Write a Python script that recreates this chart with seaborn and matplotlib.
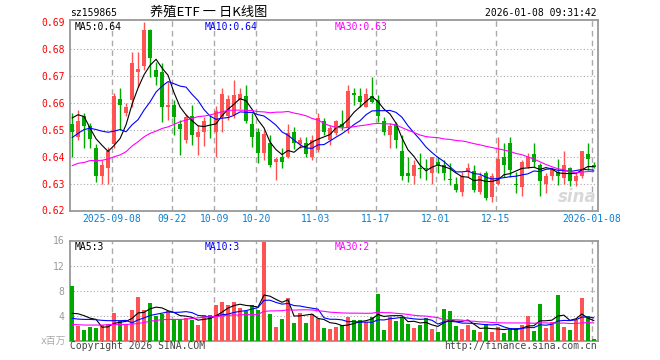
import numpy as np
import pandas as pd
import matplotlib
matplotlib.use("Agg")
import matplotlib.pyplot as plt
import seaborn as sns

# ---------------- data ----------------
open_ = [0.652, 0.6471, 0.655, 0.6513, 0.643, 0.6329, 0.6359, 0.6445, 0.6613, 0.6562,
         0.6609, 0.6712, 0.6736, 0.6869, 0.672, 0.6714, 0.6582, 0.6591, 0.652, 0.6461,
         0.655, 0.6473, 0.6492, 0.6533, 0.6492, 0.6548, 0.655, 0.6554, 0.6609, 0.6624,
         0.6519, 0.6491, 0.6412, 0.6449, 0.6381, 0.6397, 0.6399, 0.649, 0.6446, 0.6449,
         0.6397, 0.6424, 0.6532, 0.6461, 0.6488, 0.6519, 0.6508, 0.6634, 0.6624, 0.6585,
         0.6624, 0.6609, 0.6532, 0.648, 0.652, 0.642, 0.6338, 0.6329, 0.6359, 0.6359,
         0.634, 0.638, 0.6369, 0.6318, 0.6298, 0.627, 0.6344, 0.6348, 0.627, 0.6338,
         0.6251, 0.6298, 0.6399, 0.6449, 0.6298, 0.6288, 0.6362, 0.6409, 0.6367, 0.6298,
         0.6328, 0.6344, 0.6319, 0.6356, 0.6309, 0.6328, 0.6409, 0.6369]
high = [0.656, 0.6572, 0.656, 0.6523, 0.6446, 0.6387, 0.6436, 0.6634, 0.6653, 0.6597,
        0.6787, 0.6787, 0.6898, 0.6871, 0.6751, 0.6745, 0.6677, 0.6609, 0.6535, 0.6557,
        0.6591, 0.6517, 0.6548, 0.6554, 0.6587, 0.6653, 0.6628, 0.6683, 0.6653, 0.6665,
        0.656, 0.6504, 0.6498, 0.648, 0.6399, 0.643, 0.652, 0.6508, 0.6473, 0.6473,
        0.648, 0.656, 0.6541, 0.6517, 0.6535, 0.6572, 0.6665, 0.6653, 0.6653, 0.6653,
        0.6696, 0.6628, 0.6548, 0.6523, 0.6529, 0.648, 0.6399, 0.6387, 0.6412, 0.639,
        0.6399, 0.6399, 0.6387, 0.6375, 0.6325, 0.6344, 0.6375, 0.6369, 0.6344, 0.6348,
        0.6338, 0.6471, 0.6449, 0.6471, 0.6344, 0.6387, 0.6412, 0.6449, 0.6375, 0.6338,
        0.6356, 0.639, 0.642, 0.6362, 0.6344, 0.6422, 0.6449, 0.6381]
low = [0.640, 0.6461, 0.643, 0.643, 0.6304, 0.6297, 0.6297, 0.643, 0.6498, 0.655,
       0.6585, 0.6659, 0.672, 0.6696, 0.6665, 0.6529, 0.6535, 0.648, 0.6406, 0.6451,
       0.6443, 0.6406, 0.6439, 0.6467, 0.6399, 0.6492, 0.6535, 0.6541, 0.6578, 0.6523,
       0.6436, 0.6375, 0.6387, 0.6362, 0.6313, 0.6356, 0.6393, 0.6427, 0.643, 0.6397,
       0.6387, 0.6418, 0.648, 0.6443, 0.648, 0.6498, 0.6486, 0.6591, 0.6585, 0.6582,
       0.6597, 0.6529, 0.648, 0.643, 0.643, 0.6313, 0.6304, 0.6297, 0.6319, 0.6313,
       0.6297, 0.6338, 0.6313, 0.6294, 0.627, 0.6254, 0.6325, 0.627, 0.6261, 0.6239,
       0.6233, 0.6294, 0.6325, 0.6325, 0.6264, 0.6254, 0.6356, 0.6362, 0.6254, 0.6264,
       0.6313, 0.6294, 0.6298, 0.6292, 0.6292, 0.6319, 0.635, 0.6356]
close = [0.649, 0.6532, 0.6513, 0.6464, 0.6329, 0.6369, 0.642, 0.6624, 0.6592, 0.6585,
         0.6748, 0.6723, 0.6869, 0.6766, 0.6696, 0.6585, 0.659, 0.6545, 0.6503, 0.6548,
         0.648, 0.6492, 0.6533, 0.653, 0.657, 0.6631, 0.6612, 0.6628, 0.6631, 0.6532,
         0.6473, 0.6412, 0.6482, 0.6369, 0.6392, 0.6381, 0.6488, 0.6449, 0.6461, 0.6409,
         0.6461, 0.6541, 0.6492, 0.6504, 0.6532, 0.6511, 0.6644, 0.6629, 0.6603, 0.6631,
         0.6603, 0.655, 0.6492, 0.6513, 0.6461, 0.6329, 0.6329, 0.6369, 0.6354, 0.6354,
         0.6397, 0.6369, 0.634, 0.6314, 0.6276, 0.6329, 0.6359, 0.6276, 0.6329, 0.6245,
         0.6329, 0.639, 0.6369, 0.635, 0.6294, 0.6378, 0.6399, 0.6381, 0.6309, 0.6328,
         0.6352, 0.6329, 0.6367, 0.6309, 0.6328, 0.642, 0.6391, 0.6363]
volume = [8.75, 2.35, 1.7, 2.2, 2.0, 2.5, 2.67, 4.43, 3.15, 2.67,
          4.9, 7.0, 4.9, 6.0, 4.0, 4.27, 4.75, 3.5, 3.5, 3.6,
          3.3, 2.5, 4.16, 4.16, 5.76, 6.2, 5.76, 6.2, 5.2, 4.8,
          5.76, 4.9, 15.8, 4.27, 2.24, 3.47, 6.83, 2.88, 4.43, 2.88,
          4.2, 3.4, 2.0, 1.9, 2.24, 2.5, 3.84, 3.3, 3.3, 3.04,
          3.84, 7.47, 1.7, 3.84, 3.15, 3.84, 2.67, 2.03, 2.5, 3.57,
          1.87, 1.44, 5.07, 4.75, 2.35, 1.87, 2.5, 1.7, 1.39, 2.67,
          1.39, 2.2, 1.23, 2.0, 2.0, 2.5, 3.95, 1.55, 5.87, 2.03,
          2.99, 7.3, 2.2, 1.7, 3.3, 6.83, 3.95, 0.27]

# moving-average values at the left edge (history before the window)
ma5_head = [0.6543, 0.6555, 0.6548, 0.6505]
ma10_head = [0.6470, 0.6486, 0.6500, 0.6505, 0.6500, 0.6494, 0.6490, 0.6494, 0.6500]
ma30_head = [0.6366, 0.6375, 0.6378, 0.6385, 0.6385, 0.6386, 0.6391, 0.6399, 0.6406, 0.6418,
             0.6439, 0.6455, 0.6473, 0.6486, 0.6494, 0.6504, 0.6510, 0.6519, 0.6529, 0.6535,
             0.6541, 0.6548, 0.6550, 0.6554, 0.6560, 0.6566, 0.6571, 0.6572, 0.6572]
vma5_head = [4.37, 4.3, 4.0, 3.6]
vma10_head = [3.57, 3.45, 3.4, 3.4, 3.35, 3.25, 3.2, 3.2, 3.2]
vma30_head = [2.6, 2.55, 2.5, 2.5, 2.5, 2.5, 2.55, 2.6, 2.6, 2.6,
              2.65, 2.75, 2.9, 3.1, 3.25, 3.35, 3.4, 3.4, 3.4, 3.45,
              3.55, 3.65, 3.75, 3.8, 3.85, 3.95, 4.05, 4.1, 4.1]

tick_dates = ["2025-09-08", "2025-09-22", "2025-10-09", "2025-10-20", "2025-11-03",
              "2025-11-17", "2025-12-01", "2025-12-15", "2026-01-08"]
tick_labels = ["2025-09-08", "09-22", "10-09", "10-20", "11-03",
               "11-17", "12-01", "12-15", "2026-01-08"]
price_ticks = [0.62, 0.63, 0.64, 0.65, 0.66, 0.67, 0.68, 0.69]
vol_ticks = [4, 8, 12, 16]

# trading calendar
holidays = pd.to_datetime(["2025-10-01", "2025-10-02", "2025-10-03", "2025-10-06",
                           "2025-10-07", "2025-10-08", "2026-01-01", "2026-01-02"])
dates = pd.bdate_range("2025-08-28", "2026-01-08")
dates = dates[~dates.isin(holidays)]

df = pd.DataFrame({"date": dates, "open": open_, "high": high, "low": low,
                   "close": close, "vol": volume})
df["idx"] = np.arange(len(df))


def ma(series, n, head):
    m = series.rolling(n).mean().to_numpy()
    m[:len(head)] = head
    return m


df["ma5"] = ma(df["close"], 5, ma5_head)
df["ma10"] = ma(df["close"], 10, ma10_head)
df["ma30"] = ma(df["close"], 30, ma30_head)
df["vma5"] = ma(df["vol"], 5, vma5_head)
df["vma10"] = ma(df["vol"], 10, vma10_head)
df["vma30"] = ma(df["vol"], 30, vma30_head)

RED = "#ff5353"
GREEN = "#00a800"
up = df["close"] >= df["open"]
colors = np.where(up, RED, GREEN)

tick_idx = [int(df.index[df["date"] == pd.Timestamp(d)][0]) for d in tick_dates]
grid_x = [t - 0.33 for t in tick_idx]

# ---------------- style ----------------
sns.set_theme(style="white")
plt.rcParams['font.family'] = ['DejaVu Sans Mono', 'Noto Sans CJK SC']
plt.rcParams['font.size'] = 7

W, H = 660, 360
fig = plt.figure(figsize=(6.6, 3.6), dpi=100)
fig.patch.set_facecolor("white")
ax1 = fig.add_axes([70 / W, 1 - 210.5 / H, 527.5 / W, 190.5 / H])
ax2 = fig.add_axes([70 / W, 1 - 340.7 / H, 527.5 / W, 100.2 / H])

GRID = "#aaaaaa"
for ax in (ax1, ax2):
    ax.set_facecolor("white")
    for s in ax.spines.values():
        s.set_color("#999999")
        s.set_linewidth(1.3)
    for gx in grid_x:
        ax.axvline(gx, color=GRID, ls=(0, (4, 3)), lw=1.0, zorder=0)
    ax.set_xlim(-0.35, 87.6)

for yv in price_ticks[1:-1]:
    ax1.axhline(yv, color=GRID, ls=(0, (1, 2)), lw=0.8, zorder=0)
for yv in vol_ticks[:-1]:
    ax2.axhline(yv, color=GRID, ls=(0, (1, 2)), lw=0.8, zorder=0)

# candles
x = df["idx"].to_numpy()
ax1.vlines(x, df["low"], df["high"], colors=colors, lw=1.0, zorder=2)
body_lo = np.minimum(df["open"], df["close"])
body_h = np.maximum(np.abs(df["close"] - df["open"]), 0.00035)
ax1.bar(x, body_h, bottom=body_lo, width=0.8, color=colors, linewidth=0, zorder=3)

LW = 0.8
sns.lineplot(x=x, y=df["ma5"].to_numpy(), ax=ax1, color="black", lw=LW, zorder=4)
sns.lineplot(x=x, y=df["ma10"].to_numpy(), ax=ax1, color="#0000ff", lw=LW, zorder=4)
sns.lineplot(x=x, y=df["ma30"].to_numpy(), ax=ax1, color="#ff00ff", lw=LW, zorder=4)

ax1.set_ylim(0.62, 0.6906)
ax1.set_yticks(price_ticks)
ax1.set_yticklabels([f"{v:.2f}" for v in price_ticks])
ax1.tick_params(axis="y", length=0, pad=4, labelcolor="#ff0000", labelsize=7)
ax1.set_xticks(grid_x)
ax1.set_xticklabels(tick_labels)
ax1.tick_params(axis="x", length=0, pad=2.5, labelcolor="#0a7fd0", labelsize=7)

# volume
ax2.bar(x, df["vol"], width=0.8, color=colors, linewidth=0, zorder=3)
sns.lineplot(x=x, y=df["vma5"].to_numpy(), ax=ax2, color="black", lw=LW, zorder=4)
sns.lineplot(x=x, y=df["vma10"].to_numpy(), ax=ax2, color="#0000ff", lw=LW, zorder=4)
sns.lineplot(x=x, y=df["vma30"].to_numpy(), ax=ax2, color="#ff00ff", lw=LW, zorder=4)
ax2.set_ylim(0, 16)
ax2.set_yticks(vol_ticks)
ax2.set_yticklabels([str(v) for v in vol_ticks])
ax2.tick_params(axis="y", length=0, pad=4, labelcolor="#999999", labelsize=7)
ax2.set_xticks([])
for ax in (ax1, ax2):
    ax.set_xlabel("")
    ax.set_ylabel("")


def ftext(px, py, s, **kw):
    fig.text(px / W, 1 - py / H, s, va="center", **kw)


ftext(70, 13, "sz159865", ha="left", fontsize=7, color="black")
ftext(209, 12.5, "养殖ETF 一 日K线图", ha="center", fontsize=9.5, color="black",
      family=["Noto Sans CJK SC", "DejaVu Sans"])
ftext(597, 13, "2026-01-08 09:31:42", ha="right", fontsize=7, color="black")

ftext(74.5, 26.5, "MA5:0.64", ha="left", fontsize=7, color="black")
ftext(204.5, 26.5, "MA10:0.64", ha="left", fontsize=7, color="#0000ff")
ftext(334.5, 26.5, "MA30:0.63", ha="left", fontsize=7, color="#ff00ff")

ftext(74.5, 247, f"MA5:{int(df['vma5'].iloc[-1])}", ha="left", fontsize=7, color="black")
ftext(204.5, 247, f"MA10:{int(df['vma10'].iloc[-1])}", ha="left", fontsize=7, color="#0000ff")
ftext(334.5, 247, f"MA30:{int(df['vma30'].iloc[-1])}", ha="left", fontsize=7, color="#ff00ff")

ftext(66, 341, "x百万", ha="right", fontsize=7, color="#aaaaaa",
      family=["DejaVu Sans Mono", "Noto Sans CJK SC"])
ftext(70, 346, "Copyright 2026 SINA.COM", ha="left", fontsize=7, color="#444444")
ftext(597, 346, "http://finance.sina.com.cn", ha="right", fontsize=7, color="#444444")
ftext(597, 197, "sina", ha="right", fontsize=12, color="#d8d8d8",
      family=["DejaVu Sans"], fontweight="bold", fontstyle="italic")

fig.savefig("out.png", dpi=100, facecolor="white")
